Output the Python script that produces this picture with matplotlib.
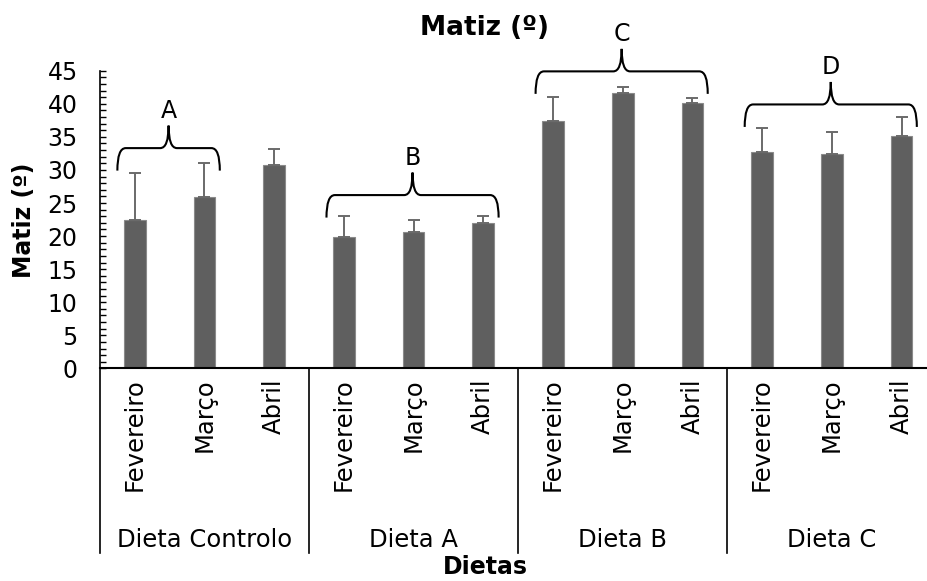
import matplotlib
matplotlib.use("Agg")
import matplotlib.pyplot as plt
import numpy as np
from matplotlib.path import Path
from matplotlib.patches import PathPatch
from matplotlib.ticker import MultipleLocator
import matplotlib.transforms as mtransforms

# data
groups = ["Dieta Controlo", "Dieta A", "Dieta B", "Dieta C"]
months = ["Fevereiro", "Março", "Abril"]
matiz = [22.5, 25.9, 30.7, 19.9, 20.6, 22.0, 37.4, 41.6, 40.1, 32.7, 32.4, 35.1]
erro = [7.0, 5.2, 2.4, 3.1, 1.9, 1.1, 3.7, 1.0, 0.7, 3.7, 3.4, 2.9]

# significance braces: (first bar, last bar, letter, level of the brace)
brace_first = [0, 3, 6, 9]
brace_last = [1, 5, 8, 11]
brace_letters = ["A", "B", "C", "D"]
brace_level = [33.3, 26.2, 44.9, 39.9]

labels = months * len(groups)
x = np.arange(len(matiz))

fig = plt.figure(figsize=(9.27, 5.81), dpi=100)
ax = fig.add_axes([0.1078, 0.3659, 0.9023, 0.5124])

bar_color = "#5f5f5f"
ax.bar(x, matiz, width=0.31, color=bar_color, edgecolor="#8a8a8a", linewidth=0.8, zorder=2)
ax.errorbar(x, matiz, yerr=[np.zeros(len(erro)), erro], fmt="none",
            ecolor="#6a6a6a", elinewidth=1.4, capsize=4.3, capthick=1.4, zorder=3)

ax.set_xlim(-0.5, len(matiz) - 0.5)
ax.set_ylim(0, 45)
ax.yaxis.set_major_locator(MultipleLocator(5))
ax.yaxis.set_minor_locator(MultipleLocator(1))
ax.tick_params(axis="y", which="both", direction="in", length=4, width=1, labelsize=17, pad=16)
ax.set_xticks(x)
ax.set_xticklabels(labels, rotation=90, fontsize=17.5)
ax.tick_params(axis="x", length=0, pad=7)

for s in ["top", "right"]:
    ax.spines[s].set_visible(False)
ax.spines["left"].set_linewidth(1.2)
ax.spines["bottom"].set_linewidth(1.5)

# category separators for the grouped axis
trans = mtransforms.blended_transform_factory(ax.transData, ax.transAxes)
n = len(months)
for k in range(len(groups) + 1):
    xs = k * n - 0.5
    ax.plot([xs, xs], [0, -0.62], transform=trans, color="black", lw=1.2, clip_on=False)
for k, g in enumerate(groups):
    ax.text(k * n + (n - 1) / 2, -0.576, g, transform=trans, ha="center", va="center", fontsize=17.5)

# braces with letters
drop = 3.4
r = 0.12
for i in range(len(brace_letters)):
    x0 = brace_first[i] - 0.25
    x1 = brace_last[i] + 0.22
    xc = (x0 + x1) / 2
    yh = brace_level[i]
    verts = [(x0, yh - drop), (x0, yh), (x0 + r, yh),
             (xc - r, yh), (xc, yh), (xc, yh + drop),
             (xc, yh), (xc + r, yh),
             (x1 - r, yh), (x1, yh), (x1, yh - drop)]
    codes = [Path.MOVETO, Path.CURVE3, Path.CURVE3,
             Path.LINETO, Path.CURVE3, Path.CURVE3,
             Path.CURVE3, Path.CURVE3,
             Path.LINETO, Path.CURVE3, Path.CURVE3]
    ax.add_patch(PathPatch(Path(verts, codes), fill=False, lw=1.5, color="black", clip_on=False, zorder=4))
    ax.text(xc, yh + 5.6, brace_letters[i], ha="center", va="center", fontsize=17, clip_on=False)

fig.text(485 / 927, 1 - 28 / 581, "Matiz (º)", ha="center", va="center", fontsize=19, fontweight="bold")
fig.text(24 / 927, 1 - 220 / 581, "Matiz (º)", ha="center", va="center", rotation=90, fontsize=17, fontweight="bold")
fig.text(485 / 927, 1 - 567 / 581, "Dietas", ha="center", va="center", fontsize=17, fontweight="bold")

fig.savefig("out.png", dpi=100)
